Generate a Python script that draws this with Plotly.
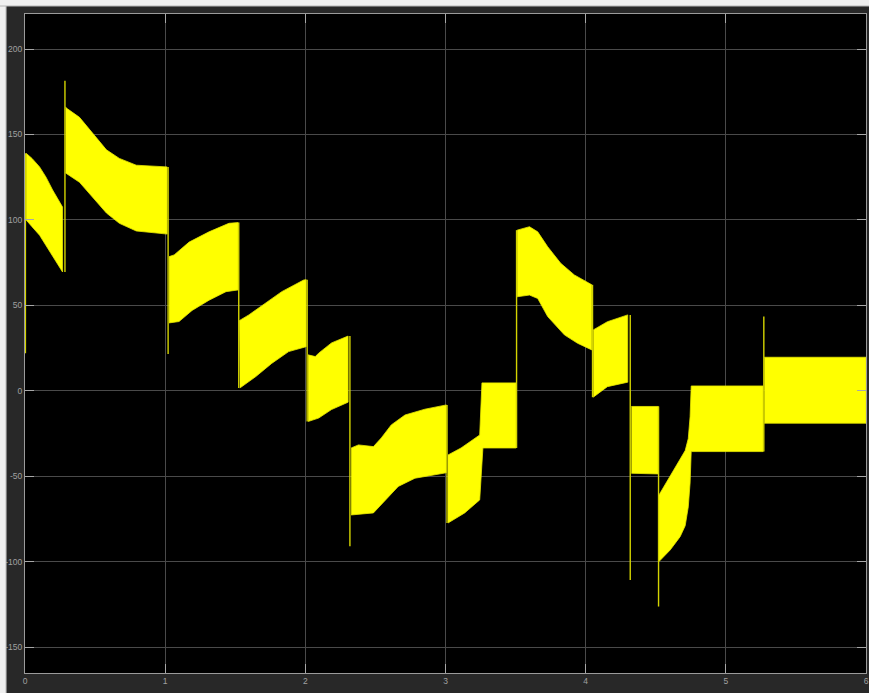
import plotly.graph_objects as go

# Envelope of the switching signal, one band per operating interval.
# Each band: x positions with the upper and lower envelope values.
seg_upper_x = [
    [0.008, 0.050, 0.104, 0.150, 0.197, 0.268],
    [0.289, 0.303, 0.389, 0.481, 0.581, 0.673, 0.794, 1.014],
    [1.028, 1.064, 1.171, 1.313, 1.455, 1.520],
    [1.528, 1.597, 1.718, 1.832, 1.988, 2.006],
    [2.020, 2.071, 2.095, 2.187, 2.305],
    [2.327, 2.379, 2.486, 2.542, 2.613, 2.711, 2.853, 3.006],
    [3.018, 3.111, 3.244, 3.260, 3.504],
    [3.511, 3.599, 3.658, 3.729, 3.822, 3.919, 4.044],
    [4.054, 4.155, 4.300],
    [4.326, 4.518],
    [4.523, 4.603, 4.674, 4.710, 4.732, 4.745, 4.753, 5.266],
    [5.274, 6.000],
]
seg_upper_y = [
    [139, 136, 131, 125, 117.5, 107.5],
    [166, 165, 160, 151, 141, 136, 132, 131],
    [78.5, 79.5, 87, 93, 98, 98.4],
    [41, 44.4, 51.4, 58, 64.8, 65],
    [21, 20, 22, 28, 32],
    [-33.5, -31.7, -32.7, -27.6, -20, -14.2, -10.8, -8.3],
    [-37.6, -33.5, -25.9, 4.6, 4.6],
    [94, 96, 93, 84.3, 74.6, 67.8, 62],
    [35.6, 40.4, 44.4],
    [-9.2, -9.2],
    [-61, -50.2, -40.5, -35, -28, -15.2, 2.8, 2.8],
    [19.6, 19.6],
]
seg_lower_x = [
    [0.008, 0.050, 0.104, 0.150, 0.197, 0.268],
    [0.289, 0.389, 0.481, 0.581, 0.673, 0.794, 1.014],
    [1.028, 1.099, 1.192, 1.313, 1.434, 1.520],
    [1.533, 1.647, 1.760, 1.881, 2.006],
    [2.020, 2.095, 2.187, 2.305],
    [2.327, 2.486, 2.569, 2.663, 2.782, 3.006],
    [3.018, 3.137, 3.244, 3.267, 3.504],
    [3.511, 3.599, 3.658, 3.729, 3.848, 3.942, 4.044],
    [4.054, 4.155, 4.300],
    [4.326, 4.518],
    [4.523, 4.603, 4.674, 4.710, 4.732, 4.745, 4.753, 5.266],
    [5.274, 6.000],
]
seg_lower_y = [
    [100, 96, 91, 85.5, 79, 69.5],
    [127.5, 122, 113.4, 104, 98, 93.5, 91.7],
    [39.7, 40.5, 47, 53, 58, 59],
    [1.6, 8.3, 16, 22.9, 25.8],
    [-18, -16, -11, -6.7],
    [-72.7, -71.5, -63.9, -56, -51.2, -48],
    [-77.4, -71.5, -63.9, -33.5, -33.5],
    [55, 56, 54, 43.4, 32.7, 27.8, 23.9],
    [-3.8, 2.4, 5],
    [-48.3, -48.7],
    [-100, -93.2, -85.4, -79, -68, -54, -35.6, -35.6],
    [-19, -19],
]

# Switching transients between intervals (x, lowest value, highest value)
trans_x = [0.003, 0.285, 1.021, 1.525, 2.013, 2.318, 3.011, 3.507, 4.049, 4.318, 4.520, 5.271]
trans_lo = [22, 69.5, 21.5, 1.6, -18, -91, -77.4, -33.5, -3.8, -110.7, -126.3, -35.6]
trans_hi = [139, 181.5, 131, 98.4, 65, 32, -8.3, 94, 62, 44.4, -9.2, 43.4]

x_ticks = [0, 1, 2, 3, 4, 5, 6]
y_ticks = [-150, -100, -50, 0, 50, 100, 150, 200]

SIGNAL = "#ffff00"

fig = go.Figure()

for ux, uy, lx, ly in zip(seg_upper_x, seg_upper_y, seg_lower_x, seg_lower_y):
    fig.add_trace(go.Scatter(
        x=ux + lx[::-1], y=uy + ly[::-1],
        mode="lines", fill="toself", fillcolor=SIGNAL,
        line=dict(color="#e6e600", width=0.8),
        hoverinfo="skip", showlegend=False,
    ))

# transient spikes as thin vertical strokes
sx, sy = [], []
for x, lo, hi in zip(trans_x, trans_lo, trans_hi):
    sx += [x, x, None]
    sy += [lo, hi, None]
fig.add_trace(go.Scatter(
    x=sx, y=sy, mode="lines",
    line=dict(color="#d4d400", width=1.4),
    hoverinfo="skip", showlegend=False,
))

axis_common = dict(
    showgrid=True, gridcolor="#4a4a4a", gridwidth=1,
    zeroline=False,
    showline=True, linecolor="#9b9b9b", linewidth=1, mirror="allticks",
    ticks="inside", ticklen=9, tickcolor="#a8a8a8", tickwidth=1,
    ticklabeloverflow="allow",
    tickfont=dict(family="Liberation Sans, Arial, sans-serif", size=8.5, color="#a0a0a0"),
)

fig.update_layout(
    width=869, height=693,
    margin=dict(l=25, r=0, t=14, b=20),
    paper_bgcolor="#282828",
    plot_bgcolor="#000000",
    xaxis=dict(range=[0, 6], tickvals=x_ticks, ticktext=[str(v) for v in x_ticks], **axis_common),
    yaxis=dict(range=[-165.2, 220.5], tickvals=y_ticks, ticktext=[str(v) for v in y_ticks], **axis_common),
    shapes=[
        dict(type="rect", xref="paper", yref="paper",
             x0=-0.06, x1=-0.0225, y0=-0.1, y1=1.1,
             fillcolor="#f0f0f0", line=dict(color="#b4b4b4", width=1), layer="above"),
        dict(type="rect", xref="paper", yref="paper",
             x0=-0.06, x1=1.06, y0=1.0121, y1=1.06,
             fillcolor="#f0f0f0", line=dict(color="#b4b4b4", width=1), layer="above"),
    ],
)

fig.write_html("out.html")
